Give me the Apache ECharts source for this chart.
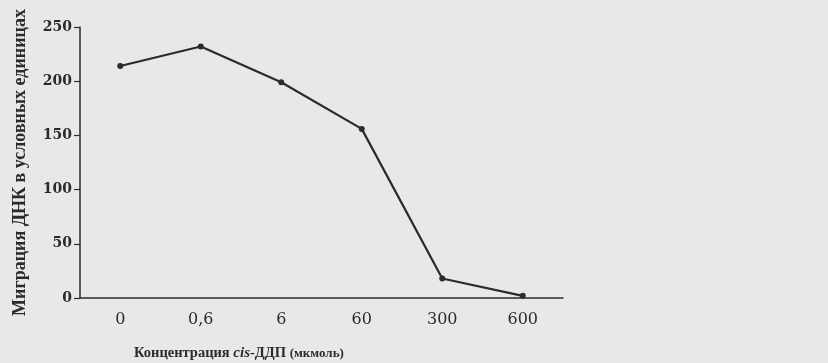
<!DOCTYPE html>
<html>
<head>
<meta charset="utf-8">
<script src="https://cdn.jsdelivr.net/npm/echarts@6/dist/echarts.min.js"></script>
<style>
  html, body { margin: 0; padding: 0; background: #e8e8e6; }
  #chart { width: 828px; height: 363px; }
</style>
</head>
<body>
<div id="chart"></div>
<script>
// концентрации cis-ДДП (мкмоль)
const concentrations = ['0', '0,6', '6', '60', '300', '600']
// миграция ДНК в условных единицах
const migration = [214, 232, 199, 156, 18, 2]

const yMin = 0
const yMax = 250
const yStep = 50

const serif = '"Liberation Serif", "DejaVu Serif", serif'
const wideSerif = '"DejaVu Serif", "Liberation Serif", serif'
const ink = '#2b2b2b'

const chart = echarts.init(document.getElementById('chart'))

const option = {
  backgroundColor: '#e8e8e6',
  animation: false,
  title: {
    left: 129,
    top: 341,
    text: '{b|Концентрация }{i|cis}{b|-ДДП }{s|(мкмоль)}',
    textStyle: {
      rich: {
        b: { fontFamily: serif, fontWeight: 'bold', fontSize: 14.5, color: ink },
        i: { fontFamily: serif, fontStyle: 'italic', fontSize: 15, color: ink },
        s: { fontFamily: serif, fontWeight: 'bold', fontSize: 13, color: ink },
      },
    },
  },
  grid: {
    left: 80,
    right: 265,
    top: 27,
    bottom: 65,
    containLabel: false,
    outerBoundsMode: 'none',
  },
  xAxis: {
    type: 'category',
    boundaryGap: true,
    data: concentrations,
    axisLine: { lineStyle: { color: ink, width: 1.5 } },
    axisTick: { alignWithLabel: true, length: 5, lineStyle: { color: ink } },
    axisLabel: {
      fontFamily: wideSerif,
      fontSize: 16,
      color: ink,
      margin: 14,
    },
  },
  yAxis: {
    type: 'value',
    min: yMin,
    max: yMax,
    interval: yStep,
    name: 'Миграция ДНК в условных единицах',
    nameLocation: 'middle',
    nameGap: 51,
    nameTextStyle: {
      fontFamily: serif,
      fontWeight: 'bold',
      fontSize: 18,
      color: ink,
    },
    splitLine: { show: false },
    axisLine: { show: true, lineStyle: { color: ink, width: 1.5 } },
    axisTick: { show: true, length: 6, lineStyle: { color: ink, width: 1.2 } },
    axisLabel: {
      fontFamily: wideSerif,
      fontWeight: 'bold',
      fontSize: 14,
      color: ink,
      margin: 8,
    },
  },
  series: [
    {
      type: 'line',
      data: migration,
      symbol: 'circle',
      symbolSize: 6,
      itemStyle: { color: ink },
      lineStyle: { color: ink, width: 2.2 },
    },
  ],
}

chart.setOption(option)
</script>
</body>
</html>
